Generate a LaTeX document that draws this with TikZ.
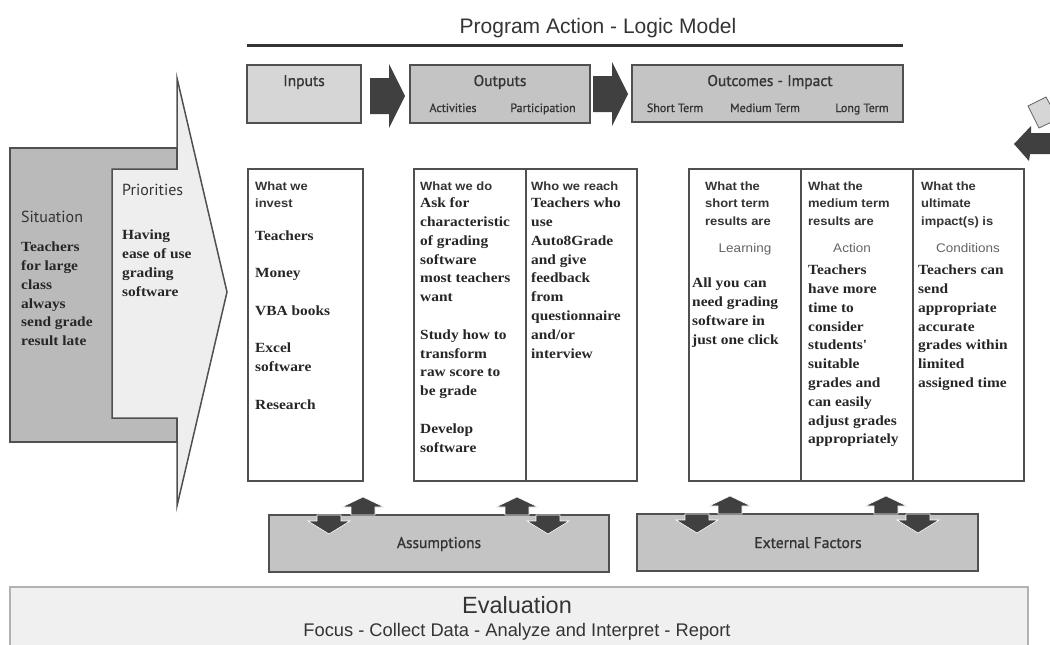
\documentclass[tikz,border=0pt]{standalone}
\usepackage{fontspec}
\setmainfont{Liberation Serif}
\newfontfamily\bodyserif[FakeStretch=1.1]{Liberation Serif}
\newfontfamily\headsans[FakeStretch=1.08]{Liberation Sans}
\newfontfamily\labelsans{PT Sans}
\newfontfamily\labelsemi[FakeBold=0.9]{PT Sans}
\newfontfamily\titlesans{Liberation Sans}
\usetikzlibrary{positioning}
\definecolor{edgegray}{RGB}{80,80,80}
\definecolor{arrowdark}{RGB}{64,64,64}
\definecolor{inputfill}{RGB}{214,214,214}
\definecolor{headfill}{RGB}{196,196,196}
\definecolor{sitfill}{RGB}{186,186,186}
\definecolor{prifill}{RGB}{238,238,238}
\definecolor{evalfill}{RGB}{240,240,240}
\definecolor{evaledge}{RGB}{178,178,178}
\definecolor{inkgray}{RGB}{52,52,52}
\definecolor{softgray}{RGB}{100,100,100}

\begin{document}
\begin{tikzpicture}[x=1pt,y=-1pt,
    hdrbox/.style={draw=edgegray,line width=1.6pt,fill=headfill,inner sep=0pt},
    colbox/.style={draw=edgegray,line width=1.6pt,fill=white,inner sep=0pt,minimum height=312pt},
    factbox/.style={draw=edgegray,line width=1.8pt,fill=headfill,inner sep=0pt,
      minimum width=340pt,minimum height=57pt},
    boxlabel/.style={font=\labelsemi\fontsize{15.5}{18}\selectfont,text=inkgray,anchor=base,inner sep=0pt},
    sidelabel/.style={font=\labelsans\fontsize{16}{18}\selectfont,text=inkgray,anchor=base west,inner sep=0pt},
    sublabel/.style={font=\labelsemi\fontsize{12}{14}\selectfont,text=inkgray,anchor=base,inner sep=0pt},
    hdrtxt/.style={font=\headsans\bfseries\fontsize{12}{17.5}\selectfont,text=inkgray,
      align=left,anchor=north west,inner sep=0pt},
    bodytxt/.style={font=\bodyserif\bfseries\fontsize{14}{18.8}\selectfont,text=black!85,
      align=left,anchor=north west,inner sep=0pt},
    kindtxt/.style={font=\headsans\fontsize{12.5}{14}\selectfont,text=softgray,anchor=base,inner sep=0pt},
    blkright/.pic={\fill[arrowdark] (0,-18) -- (19,-18) -- (19,-32) -- (35,0) -- (19,32)
      -- (19,18) -- (0,18) -- cycle;},
    blkup/.pic={\fill[arrowdark,draw=white,line width=0.6pt] (-12,0) -- (-12,-8) -- (-21,-8)
      -- (0,-18) -- (21,-8) -- (12,-8) -- (12,0) -- cycle;},
    blkdown/.pic={\fill[arrowdark,draw=white,line width=0.6pt] (-12,0) -- (-12,6) -- (-21,6)
      -- (0,19) -- (21,6) -- (12,6) -- (12,0) -- cycle;}]
  \clip (0,0) rectangle (1050,645);
  \fill[white] (0,0) rectangle (1050,645);

  % title and rule
  \node[font=\titlesans\fontsize{21}{24}\selectfont,text=inkgray,inner sep=0pt] (title) at (598,28)
    {Program Action - Logic Model};
  \draw[line width=3pt,inkgray] (247,45) -- (903,45);

  % header boxes
  \node[hdrbox,fill=inputfill,minimum width=114pt,minimum height=58pt] (inputs) at (304,94) {};
  \node[hdrbox,minimum width=180pt,minimum height=58pt] (outputs) at (500,94) {};
  \node[hdrbox,minimum width=271pt,minimum height=57pt] (outcomes) at (767.5,93.5) {};
  \node[boxlabel] (inlab) at (304,86) {Inputs};
  \node[boxlabel] (outlab) at (500,86) {Outputs};
  \node[sublabel] (actlab) at (453,112) {Activities};
  \node[sublabel] (partlab) at (543,112) {Participation};
  \node[boxlabel] (impactlab) at (770,86) {Outcomes - Impact};
  \node[sublabel] (shortlab) at (675,112) {Short Term};
  \node[sublabel] (medlab) at (765,112) {Medium Term};
  \node[sublabel] (longlab) at (862,112) {Long Term};
  \pic at (370,96) {blkright};
  \pic at (593,94) {blkright};

  % cycle arrow cut by the right edge
  \filldraw[fill=inputfill,draw=softgray,line width=0.8pt] (1028,106) -- (1046,97) -- (1058,119) -- (1039,128) -- cycle;
  \fill[arrowdark] (1052,133) -- (1031,133) -- (1031,126) -- (1014,144) -- (1029,161) -- (1030,154) -- (1052,154) -- cycle;

  % situation and priorities
  \filldraw[fill=sitfill,draw=edgegray,line width=1.8pt] (10,148) rectangle (177,442);
  \filldraw[fill=prifill,draw=edgegray,line width=1.5pt] (112,169) -- (177,169) -- (177,78)
    -- (227,292) -- (177,506) -- (177,418) -- (112,418) -- cycle;
  \node[sidelabel] (sitlab) at (21,222) {Situation};
  \node[bodytxt] (sitbody) at (21,238.3) {\strut Teachers\\for large\\class\\always\\send grade\\result late};
  \node[sidelabel] (prilab) at (122,195) {Priorities};
  \node[bodytxt] (pribody) at (122,226.3) {\strut Having\\ease of use\\grading\\software};

  % columns
  \node[colbox,minimum width=115pt,anchor=north west] (incol) at (247,168) {};
  \node[colbox,minimum width=112pt,anchor=north west] (actcol) at (413,168) {};
  \node[colbox,minimum width=111pt,anchor=north west] (partcol) at (525,168) {};
  \node[colbox,minimum width=112pt,anchor=north west] (shortcol) at (688,168) {};
  \node[colbox,minimum width=112pt,anchor=north west] (medcol) at (800,168) {};
  \node[colbox,minimum width=111pt,anchor=north west] (longcol) at (912,168) {};

  \node[hdrtxt] (inhdr) at (255,177.75) {\strut What we\\invest};
  \node[bodytxt] (inbody) at (255,226.8)
    {\strut Teachers\\[18.8pt]Money\\[18.8pt]VBA books\\[18.8pt]Excel\\software\\[18.8pt]Research};
  \node[hdrtxt] (acthdr) at (420,177.75) {\strut What we do};
  \node[bodytxt] (actbody) at (420,194.3)
    {\strut Ask for\\characteristic\\of grading\\software\\most teachers\\want\\[18.8pt]Study how to\\transform\\raw score to\\be grade\\[18.8pt]Develop\\software};
  \node[hdrtxt] (parthdr) at (531,177.75) {\strut Who we reach};
  \node[bodytxt] (partbody) at (531,194.3)
    {\strut Teachers who\\use\\Auto8Grade\\and give\\feedback\\from\\questionnaire\\and/or\\interview};

  \node[hdrtxt] (shorthdr) at (705,177.75) {\strut What the\\short term\\results are};
  \node[kindtxt] (learn) at (745,252) {Learning};
  \node[bodytxt] (shortbody) at (692,274.3) {\strut All you can\\need grading\\software in\\just one click};
  \node[hdrtxt] (medhdr) at (808,177.75) {\strut What the\\medium term\\results are};
  \node[kindtxt] (action) at (852,252) {Action};
  \node[bodytxt] (medbody) at (808,261.3)
    {\strut Teachers\\have more\\time to\\consider\\students'\\suitable\\grades and\\can easily\\adjust grades\\appropriately};
  \node[hdrtxt] (longhdr) at (921,177.75) {\strut What the\\ultimate\\impact(s) is};
  \node[kindtxt] (cond) at (968,252) {Conditions};
  \node[bodytxt] (longbody) at (918,261.3)
    {\strut Teachers can\\send\\appropriate\\accurate\\grades within\\limited\\assigned time};

  % assumptions and external factors
  \node[factbox] (assume) at (439,543.5) {};
  \node[factbox,minimum width=341pt] (extern) at (807.5,542.5) {};
  \node[boxlabel] (assumelab) at (439,548) {Assumptions};
  \node[boxlabel] (externlab) at (808,548) {External Factors};
  \pic at (329,515) {blkdown};
  \pic at (363,515) {blkup};
  \pic at (517,515) {blkup};
  \pic at (548,515) {blkdown};
  \pic at (697,514) {blkdown};
  \pic at (730,514) {blkup};
  \pic at (886,514) {blkup};
  \pic at (918,514) {blkdown};

  % evaluation
  \filldraw[fill=evalfill,draw=evaledge,line width=1.2pt] (10,587) rectangle (1028,670);
  \node[font=\titlesans\fontsize{23.5}{26}\selectfont,text=inkgray,anchor=base,inner sep=0pt] (evallab) at (517,613) {Evaluation};
  \node[font=\titlesans\fontsize{18.3}{20}\selectfont,text=inkgray,anchor=base,inner sep=0pt] (evalsteps) at (517,636)
    {Focus - Collect Data - Analyze and Interpret - Report};
\end{tikzpicture}
\end{document}
